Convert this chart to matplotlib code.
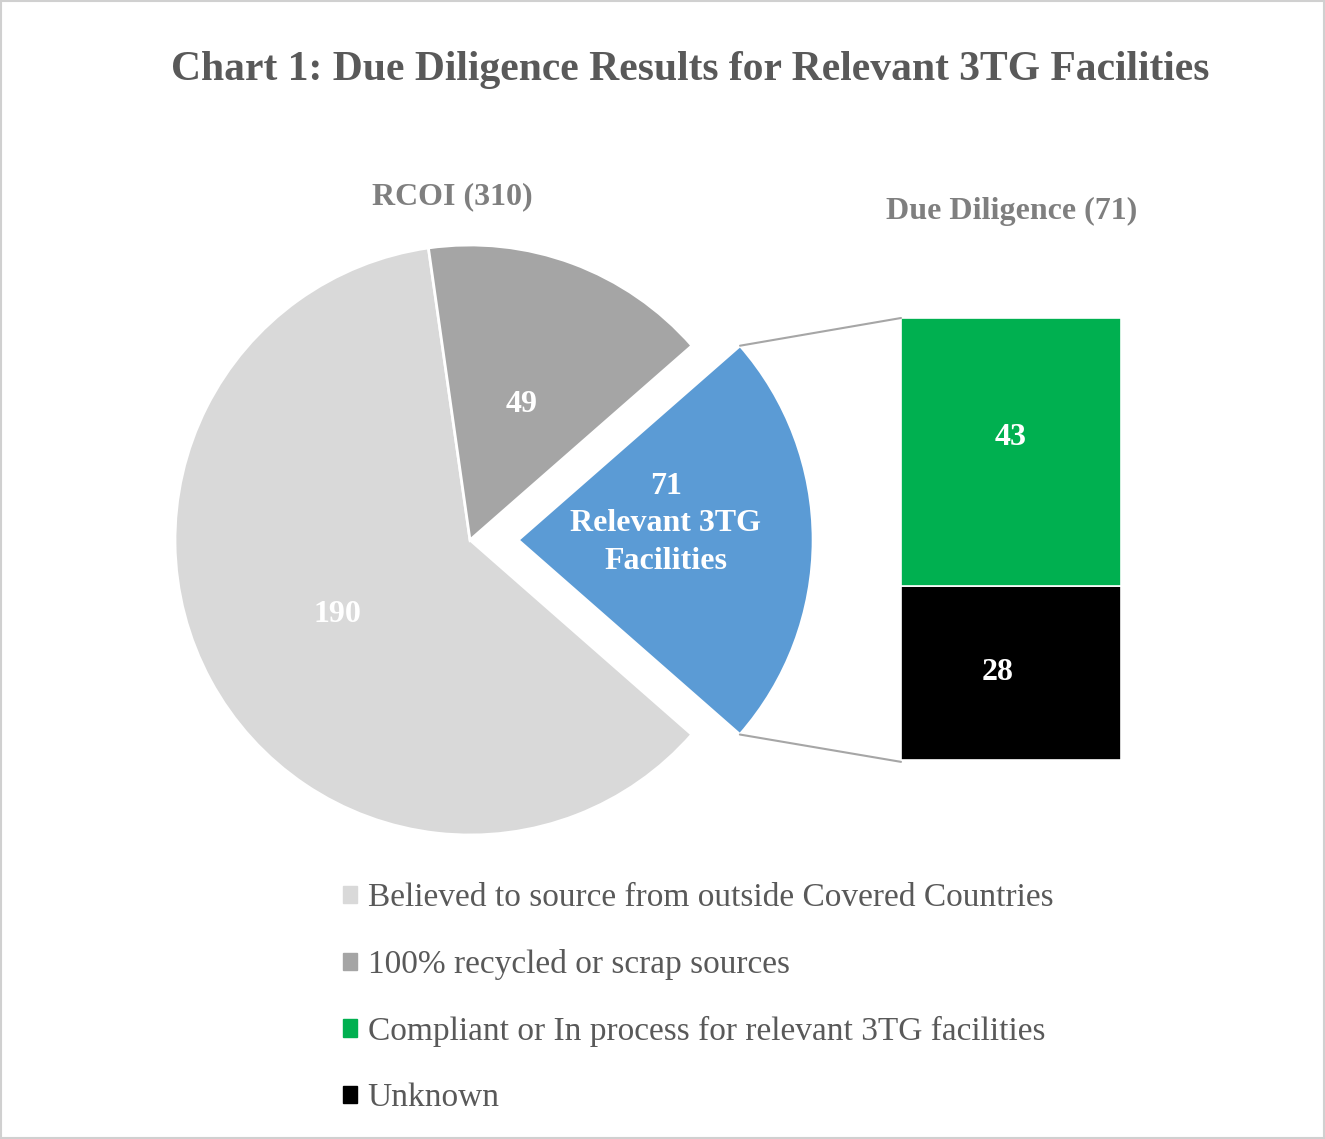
import matplotlib.pyplot as plt
import numpy as np
from matplotlib.patches import ConnectionPatch, Rectangle

plt.rcParams['font.family'] = ['Liberation Serif', 'DejaVu Serif']

# data
pie_labels = ["Believed to source from outside Covered Countries",
              "100% recycled or scrap sources",
              "Relevant 3TG Facilities"]
pie_values = [190, 49, 71]
pie_colors = ["#D9D9D9", "#A5A5A5", "#5B9BD5"]

bar_labels = ["Unknown", "Compliant or In process for relevant 3TG facilities"]
bar_values = [28, 43]
bar_colors = ["#000000", "#00B050"]

W, H = 1325, 1139
fig = plt.figure(figsize=(W / 100, H / 100), dpi=100)

# pie: centre (470, 540) px, radius 295 px
cx, cy, r = 470, 540, 295
ax = fig.add_axes([(cx - r) / W, (H - cy - r) / H, 2 * r / W, 2 * r / H])
total = sum(pie_values)
wedges, texts, autotexts = ax.pie(
    pie_values, colors=pie_colors, startangle=-41.25, counterclock=False,
    explode=[0, 0, 0.163], radius=1,
    autopct=lambda p: f"{round(p * total / 100)}", pctdistance=0.5,
    wedgeprops=dict(edgecolor="white", linewidth=2),
    textprops=dict(color="white", fontsize=23, fontweight="bold"))
autotexts[2].set_text(f"{pie_values[2]}\nRelevant 3TG\nFacilities")
autotexts[2].set_linespacing(1.4)
x2, y2 = autotexts[2].get_position()
autotexts[2].set_position((x2, y2 + 0.055))
x0, y0 = autotexts[0].get_position()
autotexts[0].set_position((x0 - 0.01, y0 - 0.015))
x1, y1 = autotexts[1].get_position()
autotexts[1].set_position((x1, y1 - 0.01))
ax.set_xlim(-1, 1)
ax.set_ylim(-1, 1)
ax.set_aspect("equal")
ax.axis("off")
for w in wedges:
    w.set_clip_on(False)

# stacked bar
bx0, bx1, by0, by1 = 901, 1121, 318, 760
bax = fig.add_axes([bx0 / W, (H - by1) / H, (bx1 - bx0) / W, (by1 - by0) / H])
bottom = 0
label_offsets = [(-0.06, 0.0), (0.0, 2.3)]
for val, col, (dx, dy) in zip(bar_values, bar_colors, label_offsets):
    bax.bar(0, val, width=1, bottom=bottom, color=col, edgecolor="white", linewidth=1.2)
    bax.text(dx, bottom + val / 2 + dy, str(val), ha="center", va="center",
             color="white", fontsize=23, fontweight="bold")
    bottom += val
bax.set_xlim(-0.5, 0.5)
bax.set_ylim(0, sum(bar_values))
bax.axis("off")

# connector lines
w = wedges[2]
cxw, cyw = w.center
for theta, yb in [(w.theta2, sum(bar_values)), (w.theta1, -0.3)]:
    x = cxw + w.r * np.cos(np.radians(theta))
    y = cyw + w.r * np.sin(np.radians(theta))
    con = ConnectionPatch(xyA=(-0.5, yb), coordsA=bax.transData,
                          xyB=(x, y), coordsB=ax.transData,
                          color="#A6A6A6", linewidth=1.5)
    fig.add_artist(con)

# titles
fig.text(690 / W, 1 - 70 / H, "Chart 1: Due Diligence Results for Relevant 3TG Facilities",
         ha="center", va="center", fontsize=30, fontweight="bold", color="#595959")
fig.text(452 / W, 1 - 197 / H, "RCOI (310)", ha="center", va="center",
         fontsize=23, fontweight="bold", color="#7F7F7F")
fig.text(1012 / W, 1 - 211 / H, "Due Diligence (71)", ha="center", va="center",
         fontsize=23, fontweight="bold", color="#7F7F7F")

# legend
handles = [Rectangle((0, 0), 1, 1, color=pie_colors[0]),
           Rectangle((0, 0), 1, 1, color=pie_colors[1]),
           Rectangle((0, 0), 1, 1, color=bar_colors[1]),
           Rectangle((0, 0), 1, 1, color=bar_colors[0])]
labels = [pie_labels[0], pie_labels[1], bar_labels[1], bar_labels[0]]
fig.legend(handles, labels, loc="upper left", bbox_to_anchor=(343 / W, 1 - 883 / H),
           frameon=False, fontsize=24, labelcolor="#595959",
           handlelength=0.42, handleheight=0.42, handletextpad=0.32,
           labelspacing=1.07, borderpad=0, borderaxespad=0)

fig.add_artist(Rectangle((0.001, 0.001), 0.998, 0.998, transform=fig.transFigure,
                         fill=False, edgecolor="#D0D0D0", linewidth=1.5))

fig.savefig("out.png", dpi=100)
